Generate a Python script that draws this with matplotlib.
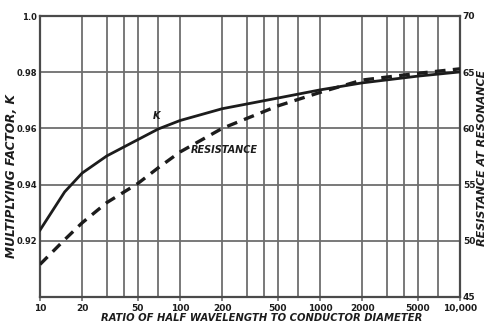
import numpy as np
import matplotlib
matplotlib.use("Agg")
import matplotlib.pyplot as plt
from matplotlib.ticker import FixedLocator, NullFormatter, NullLocator

# ratio of half wavelength to conductor diameter
ratio = [10, 15, 20, 30, 50, 70, 100, 200, 500, 1000, 2000, 5000, 10000]
# multiplying factor K (left axis)
k_factor = [0.9238, 0.9374, 0.9441, 0.9502, 0.9560, 0.9598, 0.9628, 0.9670,
            0.9708, 0.9737, 0.9762, 0.9786, 0.9801]
# resistance at resonance, ohms (right axis)
resistance = [47.9, 50.1, 51.6, 53.4, 55.1, 56.5, 57.9, 60.0, 62.0, 63.2,
              64.3, 64.9, 65.3]

x_ticks = [10, 20, 50, 100, 200, 500, 1000, 2000, 5000, 10000]
x_labels = ["10", "20", "50", "100", "200", "500", "1000", "2000", "5000", "10,000"]
x_grid = [m * d for d in (10, 100, 1000) for m in (1, 2, 3, 4, 5, 7)] + [10000]
k_ticks = [0.90, 0.92, 0.94, 0.96, 0.98, 1.0]
k_labels = ["", "0.92", "0.94", "0.96", "0.98", "1.0"]
r_ticks = [45, 50, 55, 60, 65, 70]

ink = "#1c1c1c"
grid = "#6e6e6e"

fig = plt.figure(figsize=(4.88, 3.23), dpi=100)
ax = fig.add_axes([40 / 488, 1 - 297 / 323, 420 / 488, 281 / 323])
ax.set_xscale("log")
ax.set_xlim(10, 10000)
ax.set_ylim(0.90, 1.0)

for xv in x_grid:
    ax.axvline(xv, color=grid, lw=1.3, zorder=1)
for yv in k_ticks:
    ax.axhline(yv, color=grid, lw=1.3, zorder=1)

ax.xaxis.set_major_locator(FixedLocator(x_ticks))
ax.xaxis.set_minor_locator(NullLocator())
ax.xaxis.set_minor_formatter(NullFormatter())
ax.set_xticklabels(x_labels, fontsize=6.5, fontweight="bold", color=ink)
ax.set_yticks(k_ticks)
ax.set_yticklabels(k_labels, fontsize=6, fontweight="bold", color=ink)
ax.tick_params(axis="x", length=3, width=1.2, color=grid, pad=2)
ax.tick_params(axis="y", length=0, pad=2)
for s in ax.spines.values():
    s.set_color("#4a4a4a")
    s.set_linewidth(1.6)

ax.plot(ratio, k_factor, color=ink, lw=2.0, zorder=3)

ax2 = ax.twinx()
ax2.set_ylim(45, 70)
ax2.set_yticks(r_ticks)
ax2.set_yticklabels([str(v) for v in r_ticks], fontsize=6.5, fontweight="bold", color=ink)
ax2.tick_params(axis="y", length=0, pad=2)
for s in ax2.spines.values():
    s.set_visible(False)
ax2.plot(ratio, resistance, color=ink, lw=2.4, ls=(0, (3.2, 2.2)), zorder=3)

ax.text(68, 0.9625, "K", fontsize=7, fontweight="bold", fontstyle="italic",
        color=ink, ha="center", va="bottom")
ax.text(206, 0.9523, "RESISTANCE", fontsize=7, fontweight="bold", fontstyle="italic",
        color=ink, ha="center", va="center")

ax.set_xlabel("RATIO OF HALF WAVELENGTH TO CONDUCTOR DIAMETER", fontsize=7.2,
              fontweight="bold", fontstyle="italic", color=ink)
ax.xaxis.set_label_coords(0.529, -0.057)
ax.set_ylabel("MULTIPLYING FACTOR, K", fontsize=8.7, fontweight="bold",
              fontstyle="italic", color=ink)
ax.yaxis.set_label_coords(-0.052, 0.43)
ax2.set_ylabel("RESISTANCE AT RESONANCE", fontsize=8.0, fontweight="bold",
               fontstyle="italic", color=ink)
ax2.yaxis.set_label_coords(1.041, 0.495)

fig.savefig("out.png", dpi=100, facecolor="white")
